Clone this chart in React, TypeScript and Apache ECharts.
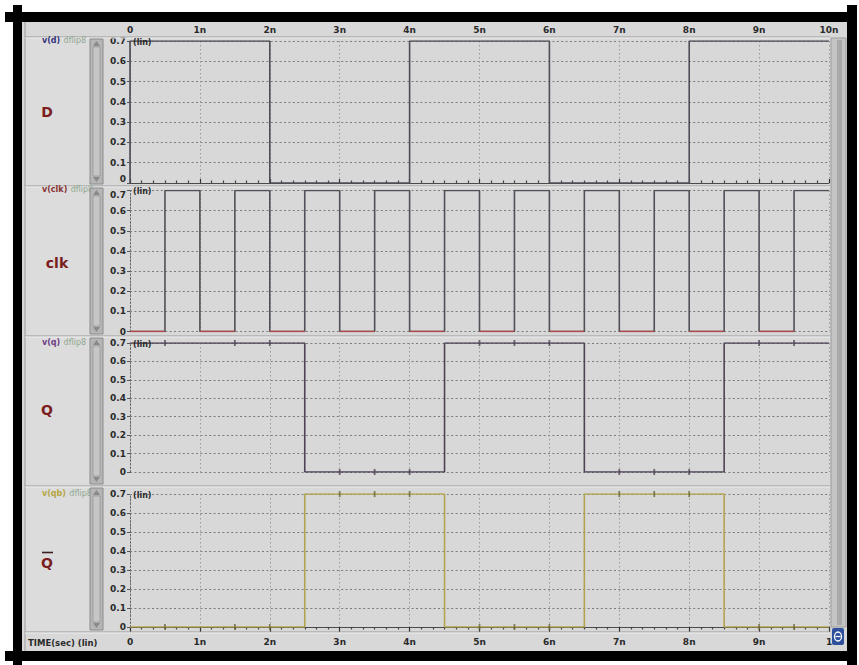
import React, { useEffect, useRef } from "react";
import * as echarts from "echarts";

// ---- data (time in ns, voltage in V) ----
const timeTickLabelsTop = ["0", "1n", "2n", "3n", "4n", "5n", "6n", "7n", "8n", "9n", "10n"];
const timeTickLabelsBottom = ["0", "1n", "2n", "3n", "4n", "5n", "6n", "7n", "8n", "9n", "1"];

const dEdgesNs = [0, 2, 4, 6, 8, 10];
const dLevels = [0.7, 0, 0.7, 0, 0.7];
const dInitial = 0;

const clkEdgesNs = [0, 0.5, 1, 1.5, 2, 2.5, 3, 3.5, 4, 4.5, 5, 5.5, 6, 6.5, 7, 7.5, 8, 8.5, 9, 9.5, 10];
const clkLevels = [0, 0.7, 0, 0.7, 0, 0.7, 0, 0.7, 0, 0.7, 0, 0.7, 0, 0.7, 0, 0.7, 0, 0.7, 0, 0.7];

const qEdgesNs = [0, 2.5, 4.5, 6.5, 8.5, 10];
const qLevels = [0.7, 0, 0.7, 0, 0.7];
const qbLevels = [0, 0.7, 0, 0.7, 0];

const glitchTimesNs = [0.5, 1.5, 2, 3, 3.5, 4, 5, 5.5, 6, 7, 7.5, 8, 9, 9.5];

const panelNames = ["D", "clk", "Q", "Q"];
const signalNames = ["v(d)", "v(clk)", "v(q)", "v(qb)"];
const instanceName = "dflip8";

// ---- helpers ----
function stepPoints(edges: number[], levels: number[], initial?: number) {
  const pts: any[] = [];
  if (initial !== undefined) pts.push([edges[0], initial]);
  for (let i = 0; i < levels.length; i++) {
    pts.push([edges[i], levels[i]]);
    pts.push([edges[i + 1], levels[i]]);
  }
  return pts;
}
// only the low (0 V) segments, broken between them
function lowSegments(edges: number[], levels: number[]) {
  const pts: any[] = [];
  for (let i = 0; i < levels.length; i++) {
    if (levels[i] === 0) {
      pts.push([edges[i], 0]);
      pts.push([edges[i + 1], 0]);
      pts.push([edges[i + 1], "-"]);
    }
  }
  return pts;
}
function levelAt(edges: number[], levels: number[], t: number) {
  for (let i = 0; i < levels.length; i++) {
    if (t >= edges[i] && t < edges[i + 1]) return levels[i];
  }
  return levels[levels.length - 1];
}

// ---- layout ----
const GRID_LEFT = 130;
const GRID_RIGHT = 30;
const panels = [
  { top: 41, height: 142, sepTop: 37, sepBottom: 186 },
  { top: 190.5, height: 141, sepTop: 186, sepBottom: 336 },
  { top: 343, height: 129, sepTop: 336, sepBottom: 486 },
  { top: 494, height: 133, sepTop: 486, sepBottom: 632 },
];
const traceColors = ["#4e4e58", "#505058", "#4e4356", "#b2a44e"];
const labelColors = ["#34347a", "#8a3434", "#6c3c84", "#b5a643"];
const FONT = "DejaVu Sans";

export default function App() {
  const ref = useRef<HTMLDivElement>(null);
  useEffect(() => {
    if (!ref.current) return;
    const chart = echarts.init(ref.current, undefined, { renderer: "svg" });

    const grids = panels.map((p) => ({ left: GRID_LEFT, right: GRID_RIGHT, top: p.top, height: p.height }));

    const xAxes = panels.map((p, i) => ({
      type: "value",
      gridIndex: i,
      min: 0,
      max: 10,
      interval: 1,
      position: i === 0 ? "top" : "bottom",
      offset: i === 0 ? 5 : i === 3 ? 5 : 0,
      axisLine: { show: i === 0 || i === 3, lineStyle: { color: "#4a4a4a", width: 1 } },
      axisTick: { show: i === 0 || i === 3, length: i === 0 ? 4 : 5, lineStyle: { color: "#333", width: 1.2 } },
      minorTick: { show: i === 0 || i === 3, splitNumber: 6, length: 2.5, lineStyle: { color: "#444", width: 1.2 } },
      axisLabel: {
        show: i === 0 || i === 3,
        margin: i === 0 ? 2 : 5,
        fontFamily: FONT,
        fontSize: 9,
        fontWeight: "bold",
        color: "#2a2a2a",
        formatter: (v: number) => (i === 0 ? timeTickLabelsTop[Math.round(v)] : timeTickLabelsBottom[Math.round(v)]),
      },
      splitLine: { show: true, lineStyle: { color: "#9a9a9a", type: [1.5, 2.5], width: 1 } },
    }));

    const yAxes = panels.map((p, i) => ({
      type: "value",
      gridIndex: i,
      min: 0,
      max: 0.7,
      interval: 0.1,
      axisLine: { show: true, lineStyle: { color: "#666", type: [1.5, 2], width: 1 } },
      axisTick: { show: true, length: 3, lineStyle: { color: "#555" } },
      axisLabel: {
        margin: 4,
        fontFamily: FONT,
        fontSize: 9,
        fontWeight: "bold",
        color: "#2a2a2a",
        verticalAlignMaxLabel: i === 1 ? "top" : "middle",
        verticalAlignMinLabel: i === 0 ? "bottom" : "middle",
        formatter: (v: number) => (v === 0 ? "0" : v.toFixed(1)),
      },
      splitLine: { show: true, lineStyle: { color: "#7c7c7c", type: [2, 2.4], width: 1.2 } },
    }));

    const series: any[] = [
      {
        name: "v(d)",
        type: "line",
        xAxisIndex: 0,
        yAxisIndex: 0,
        data: stepPoints(dEdgesNs, dLevels, dInitial),
        showSymbol: false,
        lineStyle: { color: traceColors[0], width: 1.6 },
        z: 5,
      },
      {
        name: "v(clk)",
        type: "line",
        xAxisIndex: 1,
        yAxisIndex: 1,
        data: stepPoints(clkEdgesNs, clkLevels),
        showSymbol: false,
        lineStyle: { color: traceColors[1], width: 1.6 },
        z: 5,
      },
      {
        name: "v(clk) low",
        type: "line",
        xAxisIndex: 1,
        yAxisIndex: 1,
        data: lowSegments(clkEdgesNs, clkLevels),
        showSymbol: false,
        connectNulls: false,
        lineStyle: { color: "#b04848", width: 1.6 },
        z: 6,
      },
      {
        name: "v(q)",
        type: "line",
        xAxisIndex: 2,
        yAxisIndex: 2,
        data: stepPoints(qEdgesNs, qLevels),
        showSymbol: false,
        lineStyle: { color: traceColors[2], width: 1.6 },
        z: 5,
      },
      {
        name: "v(qb)",
        type: "line",
        xAxisIndex: 3,
        yAxisIndex: 3,
        data: stepPoints(qEdgesNs, qbLevels),
        showSymbol: false,
        lineStyle: { color: traceColors[3], width: 1.6 },
        z: 5,
      },
      {
        name: "q marks",
        type: "scatter",
        xAxisIndex: 2,
        yAxisIndex: 2,
        data: glitchTimesNs.map((t) => [t, levelAt(qEdgesNs, qLevels, t)]),
        symbol: "rect",
        symbolSize: [1.8, 6],
        itemStyle: { color: traceColors[2] },
        z: 6,
      },
      {
        name: "qb marks",
        type: "scatter",
        xAxisIndex: 3,
        yAxisIndex: 3,
        data: glitchTimesNs.map((t) => [t, levelAt(qEdgesNs, qbLevels, t)]),
        symbol: "rect",
        symbolSize: [1.8, 6],
        itemStyle: { color: "#6e6838" },
        z: 6,
      },
    ];

    const g: any[] = [];
    g.push({ type: "rect", z: -10, shape: { x: 0, y: 0, width: 859, height: 665 }, style: { fill: "#ffffff" } });
    g.push({ type: "rect", z: -9, shape: { x: 22, y: 22, width: 825, height: 629 }, style: { fill: "#d8d8d8" } });
    g.push({ type: "rect", z: -8, shape: { x: 25, y: 37, width: 65, height: 595 }, style: { fill: "#dcdcdc" } });
    g.push({ type: "line", z: 20, shape: { x1: 25, y1: 22, x2: 25, y2: 651 }, style: { stroke: "#9c9c9c", lineWidth: 1 } });
    [37, 186, 336, 486, 632].forEach((y) => {
      g.push({ type: "line", z: 20, shape: { x1: 25, y1: y, x2: 830, y2: y }, style: { stroke: "#9a9a9a", lineWidth: 1 } });
      g.push({ type: "line", z: 20, shape: { x1: 25, y1: y + 1, x2: 830, y2: y + 1 }, style: { stroke: "#eeeeee", lineWidth: 1 } });
    });

    panels.forEach((p, i) => {
      const y0 = p.sepTop + 2;
      const h = p.sepBottom - p.sepTop - 4;
      g.push({ type: "rect", z: 50, shape: { x: 90, y: y0, width: 13, height: h }, style: { fill: "#b6b6b6", stroke: "#8c8c8c", lineWidth: 1 } });
      g.push({ type: "rect", z: 51, shape: { x: 93, y: y0 + 8, width: 7, height: h - 16 }, style: { fill: "#c6c6c6", stroke: "#9a9a9a", lineWidth: 0.8 } });
      g.push({ type: "polygon", z: 52, shape: { points: [[96.5, y0 + 2], [93, y0 + 7], [100, y0 + 7]] }, style: { fill: "#8a8a8a" } });
      g.push({ type: "polygon", z: 52, shape: { points: [[96.5, y0 + h - 2], [93, y0 + h - 7], [100, y0 + h - 7]] }, style: { fill: "#8a8a8a" } });
      g.push({
        type: "text",
        z: 40,
        x: 42,
        y: p.top - 1,
        style: {
          text: `{a|${signalNames[i]}} {b|${instanceName}}`,
          rich: {
            a: { fontFamily: FONT, fontSize: 8, fontWeight: "bold", fill: labelColors[i] },
            b: { fontFamily: FONT, fontSize: 8, fill: "#90a890" },
          },
          verticalAlign: "middle",
        },
      });
      const cy = p.top + p.height / 2 + (i === 0 ? 0 : 2);
      g.push({
        type: "text",
        z: 40,
        x: i === 1 ? 57 : 47,
        y: cy,
        style: {
          text: panelNames[i],
          fontFamily: FONT,
          fontSize: 14,
          fontWeight: "bold",
          fill: "#7a1e1e",
          align: "center",
          verticalAlign: "middle",
        },
      });
      if (i === 3) {
        g.push({ type: "line", z: 40, shape: { x1: 42, y1: cy - 10, x2: 53, y2: cy - 10 }, style: { stroke: "#3a2020", lineWidth: 1.6 } });
      }
      g.push({
        type: "text",
        z: 40,
        x: 133,
        y: p.top + 1,
        style: { text: "(lin)", fontFamily: FONT, fontSize: 8, fontWeight: "bold", fill: "#2a2a2a", verticalAlign: "middle" },
      });
    });

    g.push({ type: "rect", z: 50, shape: { x: 831, y: 38, width: 15, height: 589 }, style: { fill: "#c4c4c4", stroke: "#9c9c9c", lineWidth: 1 } });
    g.push({ type: "rect", z: 51, shape: { x: 837, y: 40, width: 5, height: 585 }, style: { fill: "#a9a9a9" } });
    g.push({ type: "rect", z: 60, shape: { x: 832, y: 628, width: 12, height: 17, r: 2 }, style: { fill: "#2d4f9c" } });
    g.push({ type: "ellipse", z: 61, shape: { cx: 838, cy: 636.5, rx: 3.5, ry: 4.5 }, style: { fill: "none", stroke: "#ffffff", lineWidth: 1.3 } });
    g.push({ type: "line", z: 61, shape: { x1: 835.5, y1: 636.5, x2: 840.5, y2: 636.5 }, style: { stroke: "#ffffff", lineWidth: 1.2 } });

    g.push({
      type: "text",
      z: 40,
      x: 28,
      y: 643,
      style: { text: "TIME(sec) (lin)", fontFamily: FONT, fontSize: 8.5, fontWeight: "bold", fill: "#2a2a2a", verticalAlign: "middle" },
    });

    g.push({ type: "rect", z: 100, shape: { x: 5, y: 12, width: 852, height: 10 }, style: { fill: "#000" } });
    g.push({ type: "rect", z: 100, shape: { x: 5, y: 651, width: 852, height: 10 }, style: { fill: "#000" } });
    g.push({ type: "rect", z: 100, shape: { x: 13, y: 5, width: 9, height: 660 }, style: { fill: "#000" } });
    g.push({ type: "rect", z: 100, shape: { x: 847, y: 5, width: 10, height: 660 }, style: { fill: "#000" } });

    chart.setOption({
      animation: false,
      backgroundColor: "#ffffff",
      grid: grids,
      xAxis: xAxes,
      yAxis: yAxes,
      graphic: { elements: g },
      series,
    });
    return () => chart.dispose();
  }, []);

  return <div ref={ref} style={{ position: "fixed", left: 0, top: 0, width: 859, height: 665 }} />;
}
